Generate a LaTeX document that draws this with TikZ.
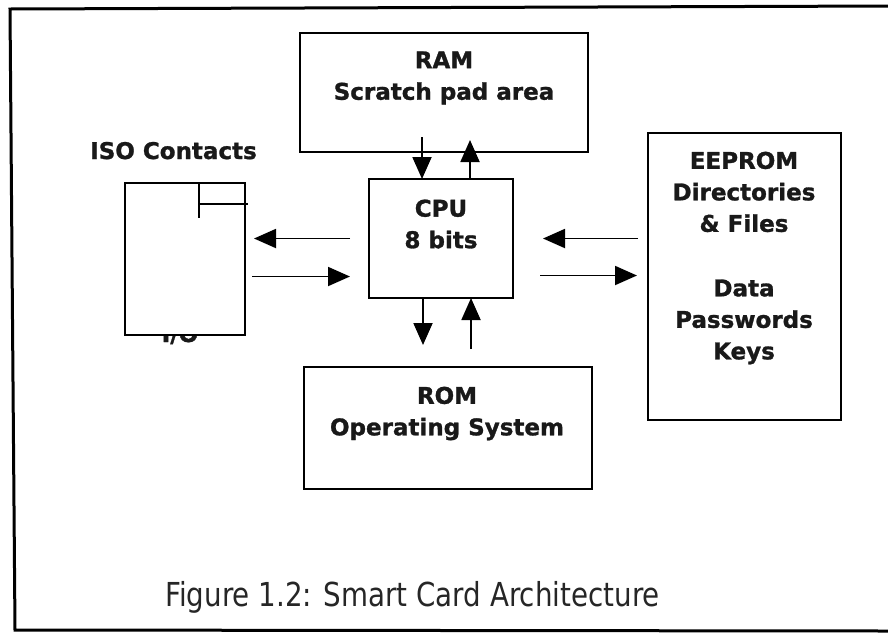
\documentclass[tikz,border=0pt]{standalone}
\usepackage{fontspec}
\setmainfont{DejaVu Sans}[BoldFeatures={FakeBold=1.2}]
\newfontfamily\capfont[FakeStretch=0.84]{DejaVu Sans}
\usetikzlibrary{arrows.meta,calc}
\begin{document}
\begin{tikzpicture}[x=1pt,y=-1pt,
  box/.style={draw=black,line width=1.7pt,fill=white,inner sep=0pt,outer sep=0pt},
  lbl/.style={font=\fontsize{23}{31.5}\selectfont\bfseries,align=center,text=black!90,inner sep=0pt},
  arr/.style={line width=1.9pt,-{Triangle[length=22pt,width=19pt]}},
  frame/.style={line width=3pt}
]
\useasboundingbox (0,0) rectangle (888,638);
% outer frame (open on the right)
\coordinate (ftr) at (890,6);
\coordinate (ftl) at (10,9);
\coordinate (fbl) at (15,630);
\coordinate (fbr) at (890,631);
\draw[frame] (ftr) -- (ftl) -- (fbl) -- (fbr);

% I/O label mostly hidden behind the contact box
\node[lbl,anchor=base] (iolbl) at (180,342) {I/O};

% boxes
\node[box,minimum width=288pt,minimum height=119pt] (ram) at (444,92.5) {};
\node[box,minimum width=144pt,minimum height=119pt] (cpu) at (441,238.5) {};
\node[box,minimum width=288pt,minimum height=122pt] (rom) at (448,428) {};
\node[box,minimum width=193pt,minimum height=287pt] (eeprom) at (744.5,276.5) {};
\node[box,minimum width=120pt,minimum height=152pt] (iso) at (185,259) {};

% contact notch
\coordinate (n1) at ($(iso.north west)+(74,0)$);
\coordinate (n2) at ($(iso.north west)+(74,35)$);
\coordinate (n3) at ($(iso.north west)+(74,21)$);
\coordinate (n4) at ($(iso.north east)+(3,21)$);
\draw[line width=1.6pt] (n1) -- (n2);
\draw[line width=1.6pt] (n3) -- (n4);

% texts
\node[lbl] (ramt) at (444,78) {RAM\\Scratch pad area};
\node[lbl] (cput) at (441,224) {CPU\\8 bits};
\node[lbl] (romt) at (447,413.5) {ROM\\Operating System};
\node[lbl] (eet) at (744,258) {EEPROM\\Directories\\\& Files\\[33pt]Data\\Passwords\\Keys};
\node[lbl,anchor=base] (isot) at (173.5,159) {ISO Contacts};

% arrows RAM <-> CPU
\draw[arr] ([xshift=-22pt,yshift=15pt]ram.south) -- ([xshift=-22pt]ram.south |- cpu.north);
\draw[arr] ([xshift=26pt]ram.south |- cpu.north) -- ([xshift=26pt,yshift=12pt]ram.south);
% arrows CPU <-> ROM
\draw[arr] ([xshift=-18pt]cpu.south) -- ([xshift=-18pt,yshift=22pt]cpu.south |- rom.north);
\draw[arr] ([xshift=30pt,yshift=18pt]cpu.south |- rom.north) -- ([xshift=30pt]cpu.south);
% arrows CPU <-> ISO
\draw[arr] ([xshift=-19pt]cpu.west) -- ([xshift=9pt]iso.east |- cpu.west);
\draw[arr] ([xshift=7pt,yshift=-38pt]iso.east |- cpu.west) -- ([xshift=-19pt,yshift=-38pt]cpu.west);
% arrows CPU <-> EEPROM
\draw[arr] ([xshift=-10pt]eeprom.west |- cpu.east) -- ([xshift=30pt]cpu.east);
\draw[arr] ([xshift=27pt,yshift=-37pt]cpu.east) -- ([xshift=-11pt,yshift=-37pt]eeprom.west |- cpu.east);

% caption
\node[font=\capfont\fontsize{33}{36}\selectfont,anchor=base west,inner sep=0pt,text=black!85] (cap) at (165,606) {Figure 1.2: Smart Card Architecture};
\end{tikzpicture}
\end{document}
